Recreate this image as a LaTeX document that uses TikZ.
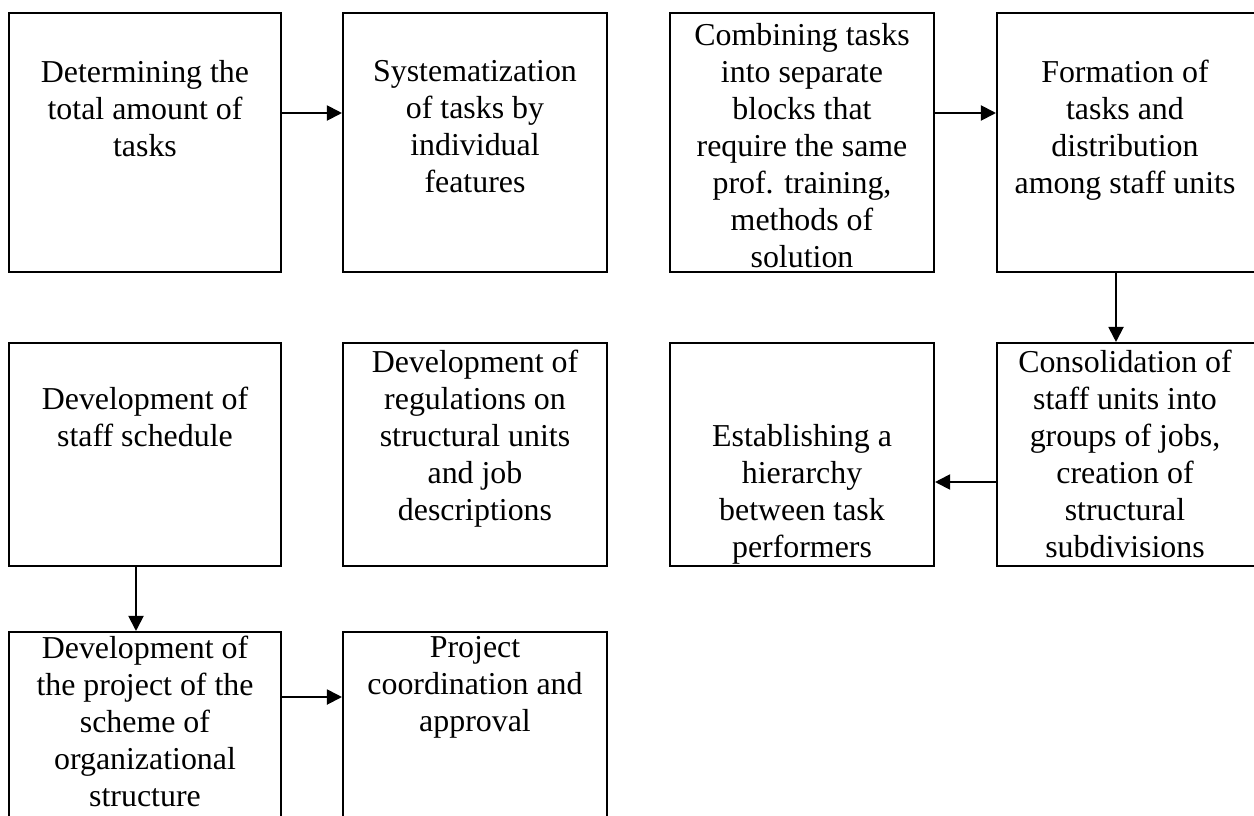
\documentclass[tikz,border=0pt]{standalone}
\usepackage{fontspec}
\setmainfont{Liberation Serif}
\usetikzlibrary{arrows.meta}
\tikzset{
  box/.style={draw, line width=1.2pt, rectangle, inner sep=0pt},
  txt/.style={anchor=north, align=center, inner sep=0pt, font=\fontsize{18.15pt}{21.06pt}\selectfont},
  arr/.style={line width=1.1pt, -{Triangle[length=0.3cm, width=0.3cm]}}
}
\begin{document}
\begin{tikzpicture}[x=0.02cm, y=-0.02cm]
\useasboundingbox (0,0) rectangle (1254,815);
\clip (0,0) rectangle (1254,815);
% row 1
\node[box, minimum width=5.44cm, minimum height=5.18cm] (b1) at (145,142.5) {};
\node[box, minimum width=5.28cm, minimum height=5.18cm] (b2) at (475,142.5) {};
\node[box, minimum width=5.28cm, minimum height=5.18cm] (b3) at (802,142.5) {};
\node[box, minimum width=5.28cm, minimum height=5.18cm] (b4) at (1129,142.5) {};
% row 2
\node[box, minimum width=5.44cm, minimum height=4.46cm] (b5) at (145,454.5) {};
\node[box, minimum width=5.28cm, minimum height=4.46cm] (b6) at (475,454.5) {};
\node[box, minimum width=5.28cm, minimum height=4.46cm] (b7) at (802,454.5) {};
\node[box, minimum width=5.28cm, minimum height=4.46cm] (b8) at (1129,454.5) {};
% row 3
\node[box, minimum width=5.44cm, minimum height=4.96cm] (b9) at (145,756) {};
\node[box, minimum width=5.28cm, minimum height=4.96cm] (b10) at (475,756) {};
% texts
\node[txt] (t1) at (145,60) {Determining the\\total amount of\\tasks};
\node[txt] (t2) at (475,60) {Systematization\\of tasks by\\individual\\features};
\node[txt] (t3) at (802,23) {Combining tasks\\into separate\\blocks that\\require the same\\prof. training,\\methods of\\solution};
\node[txt] (t4) at (1125,60) {Formation of\\tasks and\\distribution\\among staff units};
\node[txt] (t5) at (145,387) {Development of\\staff schedule};
\node[txt] (t6) at (475,350) {Development of\\regulations on\\structural units\\and job\\descriptions};
\node[txt] (t7) at (802,424) {Establishing a\\hierarchy\\between task\\performers};
\node[txt] (t8) at (1125,350) {Consolidation of\\staff units into\\groups of jobs,\\creation of\\structural\\subdivisions};
\node[txt] (t9) at (145,636) {Development of\\the project of the\\scheme of\\organizational\\structure};
\node[txt] (t10) at (475,636) {Project\\coordination and\\approval};
% connector guides
\coordinate (r1) at (0,113);
\coordinate (r2) at (0,482);
\coordinate (r3) at (0,697);
\coordinate (c4) at (1116,0);
\coordinate (c1) at (136,0);
% connectors
\draw[arr] (b1.east |- r1) -- (b2.west |- r1);
\draw[arr] (b3.east |- r1) -- (b4.west |- r1);
\draw[arr] (b4.south -| c4) -- (b8.north -| c4);
\draw[arr] (b8.west |- r2) -- (b7.east |- r2);
\draw[arr] (b5.south -| c1) -- (b9.north -| c1);
\draw[arr] (b9.east |- r3) -- (b10.west |- r3);
\end{tikzpicture}
\end{document}
